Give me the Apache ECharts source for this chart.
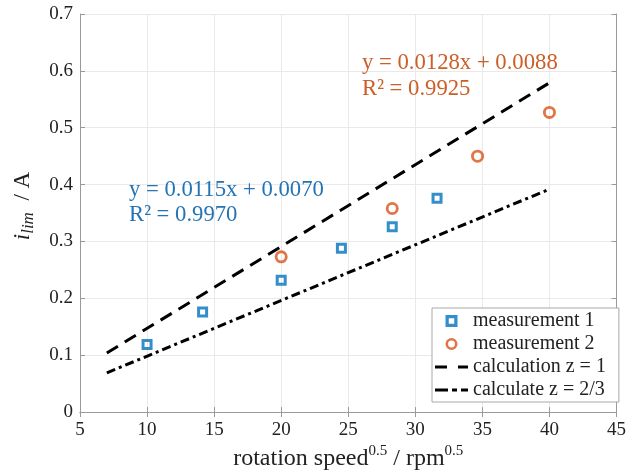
<!DOCTYPE html>
<html>
<head>
<meta charset="utf-8">
<script src="https://cdn.jsdelivr.net/npm/echarts@6/dist/echarts.min.js"></script>
<style>
html,body{margin:0;padding:0;background:#fff;}
#c{width:629px;height:476px;}
</style>
</head>
<body>
<div id="c"></div>
<script>
// Data
var m1X = [10, 14.14, 20, 24.49, 28.28, 31.62];
var m1Y = [0.119, 0.176, 0.232, 0.288, 0.326, 0.376];
var m2X = [20, 28.28, 34.64, 40];
var m2Y = [0.273, 0.358, 0.450, 0.527];
var calc1X = [7, 40];
var calc1Y = [0.104, 0.579];
var calc23X = [7, 40];
var calc23Y = [0.069, 0.392];
var xTicks = [5, 10, 15, 20, 25, 30, 35, 40, 45];
var yTicks = [0, 0.1, 0.2, 0.3, 0.4, 0.5, 0.6, 0.7];
var seriesNames = ['measurement 1', 'measurement 2', 'calculation z = 1', 'calculate z = 2/3'];
var fit1Text = ['y = 0.0115x + 0.0070', 'R\u00b2 = 0.9970'];
var fit2Text = ['y = 0.0128x + 0.0088', 'R\u00b2 = 0.9925'];

function pairs(xs, ys) { return xs.map(function (x, i) { return [x, ys[i]]; }); }

var FONT = "'Liberation Serif', 'Times New Roman', serif";
var BLUE = '#0072BD', ORANGE = '#D95319';
var AXC = '#9a9a9a';
var sqPath = 'path://M0,0H11V11H0Z M3,3V8H8V3Z';
var ringPath = 'path://M6.5,0A6.5,6.5 0 1,1 6.5,13A6.5,6.5 0 1,1 6.5,0Z M6.5,2.8A3.7,3.7 0 1,0 6.5,10.2A3.7,3.7 0 1,0 6.5,2.8Z';
var dashIcon = 'path://M0,0H12V3H0Z M23,0H33V3H23Z';
var dashDotIcon = 'path://M0,0H13V3H0Z M17,0H22V3H17Z M26,0H33V3H26Z';

function axisLabelStyle(margin) {
  return {
    color: '#222', fontFamily: FONT, fontSize: 19, margin: margin,
    formatter: function (v) { return '{a|' + v + '}'; },
    rich: { a: { fontFamily: FONT, fontSize: 19, color: '#222' } }
  };
}
function baseAxis(extra) {
  var a = {
    type: 'value',
    axisLine: { show: true, lineStyle: { color: AXC, width: 1 } },
    axisTick: { show: true, inside: true, length: 5, lineStyle: { color: AXC } },
    axisLabel: axisLabelStyle(8),
    splitLine: { show: true, lineStyle: { color: '#e9e9e9', width: 1 } }
  };
  for (var k in extra) a[k] = extra[k];
  return a;
}

var chart = echarts.init(document.getElementById('c'), null, { renderer: 'canvas' });
chart.setOption({
  animation: false,
  backgroundColor: '#fff',
  textStyle: { fontFamily: FONT },
  grid: { left: 80, right: 11, top: 14, bottom: 63, containLabel: false },
  xAxis: [
    baseAxis({
      min: xTicks[0], max: xTicks[xTicks.length - 1], interval: 5,
      axisLabel: axisLabelStyle(8),
      name: '{t|rotation speed}{s|0.5}{t| / rpm}{s|0.5}',
      nameLocation: 'middle', nameGap: 31,
      nameTextStyle: { fontFamily: FONT, rich: {
        t: { fontFamily: FONT, fontSize: 24, color: '#222' },
        s: { fontFamily: FONT, fontSize: 15, color: '#222', padding: [0, 0, 15, 0] }
      } }
    }),
    baseAxis({
      position: 'top', min: xTicks[0], max: xTicks[xTicks.length - 1], interval: 5,
      axisLabel: { show: false }, splitLine: { show: false }
    })
  ],
  yAxis: [
    baseAxis({
      min: yTicks[0], max: yTicks[yTicks.length - 1], interval: 0.1,
      axisLabel: axisLabelStyle(7),
      name: '{i|i}{b|lim}{t|  / A}',
      nameLocation: 'middle', nameGap: 43, nameRotate: 90,
      nameTextStyle: { fontFamily: FONT, rich: {
        i: { fontFamily: FONT, fontSize: 23, fontStyle: 'italic', color: '#222', padding: [0, 0, 0, 14] },
        b: { fontFamily: FONT, fontSize: 17, fontStyle: 'italic', color: '#222', padding: [12, 0, 0, 0] },
        t: { fontFamily: FONT, fontSize: 23, color: '#222' }
      } }
    }),
    baseAxis({
      position: 'right', min: yTicks[0], max: yTicks[yTicks.length - 1], interval: 0.1,
      axisLabel: { show: false }, splitLine: { show: false }
    })
  ],
  legend: {
    orient: 'vertical',
    left: 432, top: 308,
    padding: [3, 13, 2, 3],
    itemGap: 3,
    itemWidth: 33, itemHeight: 12,
    itemTextGap: 3,
    backgroundColor: '#fff',
    borderColor: '#a8a8a8', borderWidth: 1, borderRadius: 0,
    textStyle: { fontFamily: FONT, fontSize: 20, color: '#222', lineHeight: 19 },
    data: [
      { name: seriesNames[0], icon: sqPath },
      { name: seriesNames[1], icon: ringPath },
      { name: seriesNames[2], icon: dashIcon },
      { name: seriesNames[3], icon: dashDotIcon }
    ]
  },
  series: [
    {
      name: seriesNames[0], type: 'scatter', data: pairs(m1X, m1Y),
      symbol: sqPath, symbolSize: 11, itemStyle: { color: BLUE }, z: 5
    },
    {
      name: seriesNames[1], type: 'scatter', data: pairs(m2X, m2Y),
      symbol: ringPath, symbolSize: 13, itemStyle: { color: ORANGE }, z: 5
    },
    {
      name: seriesNames[2], type: 'line', data: pairs(calc1X, calc1Y),
      symbol: 'none', itemStyle: { color: '#000' },
      lineStyle: { color: '#000', width: 3, type: [13, 8] }
    },
    {
      name: seriesNames[3], type: 'line', data: pairs(calc23X, calc23Y),
      symbol: 'none', itemStyle: { color: '#000' },
      lineStyle: { color: '#000', width: 3, type: [9, 4, 3, 4] }
    }
  ],
  graphic: [
    { type: 'text', z: 100, left: 129, top: 179, style: { text: fit1Text[0], font: '22.7px "Liberation Serif"', fill: '#2474b5' } },
    { type: 'text', z: 100, left: 129, top: 204, style: { text: fit1Text[1], font: '22.7px "Liberation Serif"', fill: '#2474b5' } },
    { type: 'text', z: 100, left: 362, top: 52, style: { text: fit2Text[0], font: '22.7px "Liberation Serif"', fill: '#cc5e26' } },
    { type: 'text', z: 100, left: 362, top: 78, style: { text: fit2Text[1], font: '22.7px "Liberation Serif"', fill: '#cc5e26' } }
  ]
});
</script>
</body>
</html>
